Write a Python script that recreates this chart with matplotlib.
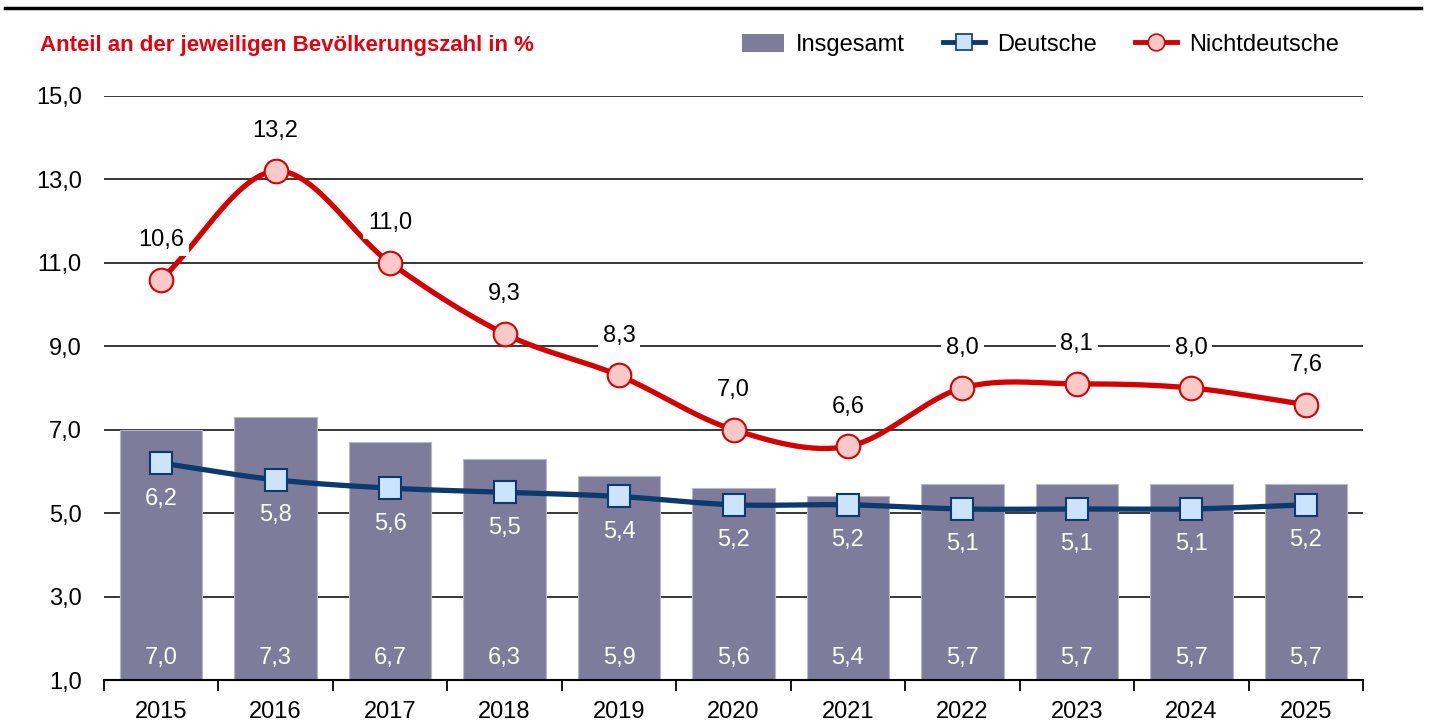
import numpy as np
import matplotlib
matplotlib.use("Agg")
import matplotlib.pyplot as plt
from matplotlib.lines import Line2D
from matplotlib.patches import Patch

years = ["2015", "2016", "2017", "2018", "2019", "2020", "2021", "2022", "2023", "2024", "2025"]
insgesamt = [7.0, 7.3, 6.7, 6.3, 5.9, 5.6, 5.4, 5.7, 5.7, 5.7, 5.7]
deutsche = [6.2, 5.8, 5.6, 5.5, 5.4, 5.2, 5.2, 5.1, 5.1, 5.1, 5.2]
nichtdeutsche = [10.6, 13.2, 11.0, 9.3, 8.3, 7.0, 6.6, 8.0, 8.1, 8.0, 7.6]
yticks = [1.0, 3.0, 5.0, 7.0, 9.0, 11.0, 13.0, 15.0]

BAR_C = "#7f7b9b"
DE_LINE = "#0b3a6e"
DE_FILL = "#cce4fb"
ND_LINE = "#d50000"
ND_FILL = "#fcc9c9"
TITLE_C = "#e4000f"

plt.rcParams["font.family"] = ["Liberation Sans", "DejaVu Sans"]

def fmt(v):
    return f"{v:.1f}".replace(".", ",")

def smooth(x, y, n=30):
    x = np.asarray(x, float); y = np.asarray(y, float)
    px = np.concatenate([[2*x[0]-x[1]], x, [2*x[-1]-x[-2]]])
    py = np.concatenate([[2*y[0]-y[1]], y, [2*y[-1]-y[-2]]])
    xs, ys = [], []
    t = np.linspace(0, 1, n, endpoint=False)
    for i in range(1, len(px)-2):
        p0, p1, p2, p3 = py[i-1], py[i], py[i+1], py[i+2]
        q0, q1, q2, q3 = px[i-1], px[i], px[i+1], px[i+2]
        ys.append(0.5*((2*p1) + (-p0+p2)*t + (2*p0-5*p1+4*p2-p3)*t**2 + (-p0+3*p1-3*p2+p3)*t**3))
        xs.append(0.5*((2*q1) + (-q0+q2)*t + (2*q0-5*q1+4*q2-q3)*t**2 + (-q0+3*q1-3*q2+q3)*t**3))
    xs.append([x[-1]]); ys.append([y[-1]])
    return np.concatenate(xs), np.concatenate(ys)

fig = plt.figure(figsize=(14.32, 7.21), dpi=100)
ax = fig.add_axes([104/1432, 41/721, (1363-104)/1432, (680-96)/721])

x = np.arange(len(years))
ax.set_xlim(-0.5, len(years)-0.5)
ax.set_ylim(1.0, 15.0)

for yv in yticks[1:]:
    ax.axhline(yv, color="black", lw=1.1, zorder=0)

ax.bar(x, np.array(insgesamt) - 1.0, bottom=1.0, width=0.72, color=BAR_C,
       edgecolor="#b9b6c8", linewidth=0.8, zorder=1)

sx, sy = smooth(x, deutsche)
ax.plot(sx, sy, color=DE_LINE, lw=3.8, zorder=3, solid_capstyle="round")
ax.plot(x, deutsche, ls="none", marker="s", ms=16, mfc=DE_FILL, mec=DE_LINE, mew=1.5, zorder=4)

sx, sy = smooth(x, nichtdeutsche)
ax.plot(sx, sy, color=ND_LINE, lw=3.8, zorder=3, solid_capstyle="round")
ax.plot(x, nichtdeutsche, ls="none", marker="o", ms=17, mfc=ND_FILL, mec=ND_LINE, mew=1.5, zorder=4)

fs = 17
for i in range(len(years)):
    ax.text(x[i], 1.52, fmt(insgesamt[i]), ha="center", va="center", color="white", fontsize=fs, zorder=5)
    ax.text(x[i], deutsche[i] - 0.85, fmt(deutsche[i]), ha="center", va="center", color="white", fontsize=fs, zorder=5)
    ax.text(x[i], nichtdeutsche[i] + 0.95, fmt(nichtdeutsche[i]), ha="center", va="center", color="black", fontsize=fs, zorder=5,
            bbox=dict(boxstyle="square,pad=0.2", fc="white", ec="none"))

ax.set_yticks(yticks)
ax.set_yticklabels([fmt(v) for v in yticks], fontsize=fs)
ax.tick_params(axis="y", length=0, pad=16)

ax.set_xticks(np.arange(len(years)+1) - 0.5)
ax.set_xticklabels([])
ax.set_xticks(x, minor=True)
ax.set_xticklabels(years, minor=True, fontsize=fs)
ax.tick_params(axis="x", which="major", length=8, width=1.3, direction="out", color="black")
ax.tick_params(axis="x", which="minor", length=0, pad=15)

for s in ["left", "right", "top"]:
    ax.spines[s].set_visible(False)
ax.spines["bottom"].set_linewidth(1.5)
ax.spines["bottom"].set_zorder(6)

fig.add_artist(Line2D([5/1432, 1421/1432], [1 - 8/721, 1 - 8/721], color="black", lw=2.5))
fig.text(40/1432, 1 - 45/721, "Anteil an der jeweiligen Bevölkerungszahl in %", color=TITLE_C,
         fontsize=16, fontweight="bold", ha="left", va="center")

handles = [
    Patch(facecolor=BAR_C, edgecolor="none"),
    Line2D([0], [0], color=DE_LINE, lw=3.5, marker="s", ms=11, mfc=DE_FILL, mec=DE_LINE, mew=1.2),
    Line2D([0], [0], color=ND_LINE, lw=3.5, marker="o", ms=12, mfc=ND_FILL, mec=ND_LINE, mew=1.2),
]
fig.legend(handles, ["Insgesamt", "Deutsche", "Nichtdeutsche"], loc="center right",
           bbox_to_anchor=(1360/1432, 1 - 45/721), ncol=3, frameon=False, fontsize=fs,
           handlelength=1.8, handleheight=0.8, handletextpad=0.5, columnspacing=1.6)

fig.savefig("out.png", dpi=100)
